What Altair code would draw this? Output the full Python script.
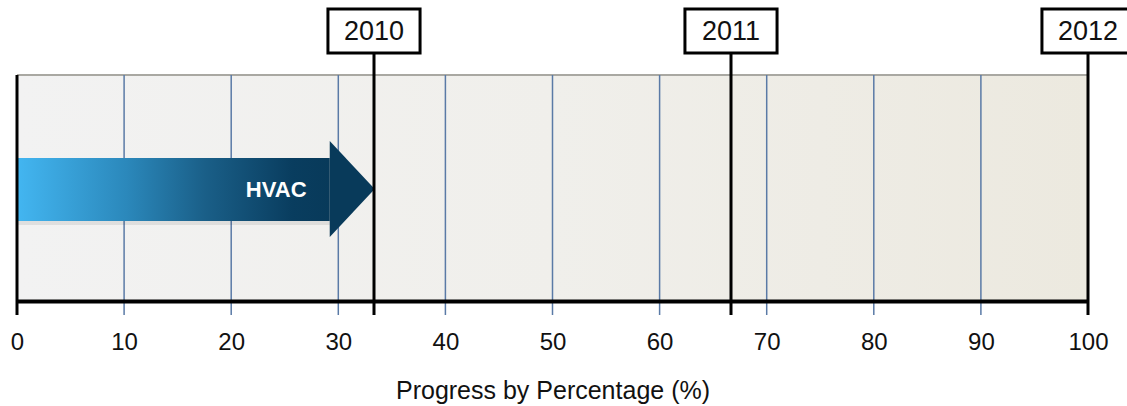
import altair as alt
import pandas as pd

# Milestone years placed along the percentage scale
year_labels = ["2010", "2011", "2012"]
year_positions = [100 / 3, 200 / 3, 100]

# Minor gridlines every 10 %
grid_values = [10, 20, 30, 40, 50, 60, 70, 80, 90]

# Task progress
task_names = ["HVAC"]
task_progress = [33.4]

FONT = "Liberation Sans"
HEAD_LEN = 4.2          # arrow head length in percentage units
BOX_HALF = 4.3          # half width of year boxes in percentage units

x_scale = alt.Scale(domain=[0, 100], nice=False, zero=False)
y_scale = alt.Scale(domain=[0, 1], nice=False, zero=False)

# ---- background panel -------------------------------------------------
bg_df = pd.DataFrame({"x0": [0], "x1": [100]})
background = alt.Chart(bg_df).mark_rect(
    color=alt.LinearGradient(
        gradient="linear",
        stops=[alt.GradientStop(color="#f2f2f2", offset=0),
               alt.GradientStop(color="#f0efeb", offset=0.5),
               alt.GradientStop(color="#ece9df", offset=1)],
        x1=0, x2=1, y1=0, y2=0,
    )
).encode(
    x=alt.X("x0:Q", scale=x_scale,
            axis=alt.Axis(values=list(range(0, 101, 10)), ticks=False, grid=False,
                          domainColor="#000000", domainWidth=4, labelPadding=29,
                          labelFlush=False, labelFontSize=24, labelFont=FONT,
                          labelColor="#111111",
                          title="Progress by Percentage (%)", titleFont=FONT,
                          titleFontSize=25, titleFontWeight="normal",
                          titleColor="#111111", titlePadding=24, zindex=1)),
    x2="x1:Q",
    y=alt.value(0),
    y2=alt.value(226),
)

top_border = alt.Chart(bg_df).mark_rule(color="#a9a8a2", strokeWidth=2).encode(
    x="x0:Q", x2="x1:Q", y=alt.value(0)
)

# ---- gridlines ---------------------------------------------------------
grid_df = pd.DataFrame({"v": grid_values})
grid = alt.Chart(grid_df).mark_rule(color="#5a7aa6", strokeWidth=1.5).encode(
    x=alt.X("v:Q", scale=x_scale), y=alt.value(0), y2=alt.value(240)
)

left_df = pd.DataFrame({"v": [0]})
left_line = alt.Chart(left_df).mark_rule(color="#000000", strokeWidth=3).encode(
    x=alt.X("v:Q", scale=x_scale), y=alt.value(0), y2=alt.value(240)
)

# ---- progress arrow ----------------------------------------------------
arrow_df = pd.DataFrame({"task": task_names, "p": task_progress})
arrow_df["base"] = arrow_df["p"] - HEAD_LEN
arrow_df["start"] = 0
arrow_df["label_x"] = arrow_df["base"] - 5

body_shadow = alt.Chart(arrow_df).mark_rect(color="#000000", opacity=0.08).encode(
    x=alt.X("start:Q", scale=x_scale), x2="base:Q",
    y=alt.value(85), y2=alt.value(150),
)

body = alt.Chart(arrow_df).mark_rect(
    color=alt.LinearGradient(
        gradient="linear",
        stops=[alt.GradientStop(color="#43b6f1", offset=0),
               alt.GradientStop(color="#2b88bb", offset=0.35),
               alt.GradientStop(color="#1a5f88", offset=0.6),
               alt.GradientStop(color="#093d5f", offset=0.88),
               alt.GradientStop(color="#083a5a", offset=1)],
        x1=0, x2=1, y1=0, y2=0,
    )
).encode(
    x=alt.X("start:Q", scale=x_scale), x2="base:Q",
    y=alt.value(83), y2=alt.value(146),
)

head_rows = []
for name, p in zip(task_names, task_progress):
    head_rows.append({"task": name, "hx": p - HEAD_LEN, "top": 0.708, "bot": 0.283})
    head_rows.append({"task": name, "hx": p, "top": 0.496, "bot": 0.496})
head_df = pd.DataFrame(head_rows)

head_shadow = alt.Chart(head_df).mark_area(color="#000000", opacity=0.08, yOffset=3).encode(
    x=alt.X("hx:Q", scale=x_scale),
    y=alt.Y("top:Q", scale=y_scale, axis=None),
    y2="bot:Q",
)

head = alt.Chart(head_df).mark_area(color="#083a5a").encode(
    x=alt.X("hx:Q", scale=x_scale),
    y=alt.Y("top:Q", scale=y_scale, axis=None),
    y2="bot:Q",
)

arrow_label = alt.Chart(arrow_df).mark_text(
    font=FONT, fontSize=22, fontWeight="bold", color="#ffffff"
).encode(
    x=alt.X("label_x:Q", scale=x_scale), y=alt.value(115), text="task:N"
)

# ---- year markers ------------------------------------------------------
year_df = pd.DataFrame({"year": year_labels, "pos": year_positions})
year_df["lo"] = year_df["pos"] - BOX_HALF
year_df["hi"] = year_df["pos"] + BOX_HALF

year_rules = alt.Chart(year_df).mark_rule(color="#000000", strokeWidth=3).encode(
    x=alt.X("pos:Q", scale=x_scale), y=alt.value(-22), y2=alt.value(240)
)

box_shadow = alt.Chart(year_df).mark_rect(
    color="#7a7a7a", opacity=0.6, xOffset=3, yOffset=3
).encode(
    x=alt.X("lo:Q", scale=x_scale), x2="hi:Q", y=alt.value(-66), y2=alt.value(-22)
)

boxes = alt.Chart(year_df).mark_rect(
    fill="#ffffff", stroke="#000000", strokeWidth=3
).encode(
    x=alt.X("lo:Q", scale=x_scale), x2="hi:Q", y=alt.value(-66), y2=alt.value(-22)
)

box_text = alt.Chart(year_df).mark_text(
    font=FONT, fontSize=27, color="#111111"
).encode(
    x=alt.X("pos:Q", scale=x_scale), y=alt.value(-43), text="year:N"
)

chart = alt.layer(
    background, top_border, grid,
    body_shadow, head_shadow, body, head, arrow_label, left_line,
    year_rules, box_shadow, boxes, box_text,
).properties(
    width=1071, height=226,
    padding={"left": 17, "top": 75, "right": 39, "bottom": 105},
    autosize="none",
).configure_view(stroke=None).configure(background="#ffffff")

chart.save("out.html", embed_options={"renderer": "svg", "actions": False})
